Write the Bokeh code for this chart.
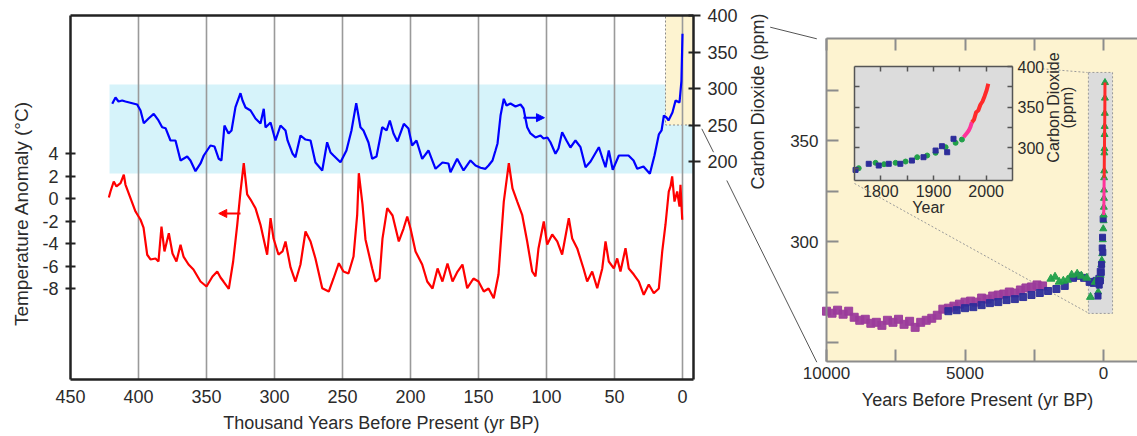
import math
from bokeh.plotting import figure
from bokeh.models import Range1d, LinearAxis, FixedTicker, Arrow, NormalHead
from bokeh.embed import file_html
from bokeh.resources import INLINE
from bokeh.core.properties import value

FONT = "Liberation Sans"
TXT = "#2b2b2b"
YEL = "#fdf3d0"
GREY = "#8c8c8c"

# ---------------- data: Vostok (left panel) ----------------
temp_kyr = [421.8, 420.6, 418.2, 416.2, 413.2, 410.8, 409.6, 405.9, 402.2, 398.5,
            396.3, 393.6, 391.2, 387.5, 385.3, 383.1, 380.9, 377.7, 375.0, 372.1,
            369.1, 366.9, 363.2, 359.6, 354.4, 350.0, 345.6, 342.1, 339.7, 337.5,
            333.6, 330.4, 327.4, 325.0, 322.6, 320.1, 317.6, 314.0, 310.3, 305.4,
            302.9, 300.7, 297.1, 294.1, 291.9, 288.2, 284.6, 280.9, 277.2, 273.5,
            269.9, 264.9, 260.1, 256.6, 252.7, 249.3, 245.6, 241.9, 239.2, 238.0,
            235.3, 233.1, 228.2, 225.7, 222.8, 220.6, 217.1, 213.2, 208.6, 205.1,
            202.4, 200.0, 196.3, 191.4, 187.7, 183.8, 180.1, 176.5, 172.8, 169.1,
            165.4, 161.8, 158.3, 153.7, 150.0, 146.1, 142.6, 138.8, 135.3, 131.4,
            127.7, 125.0, 121.5, 117.9, 114.2, 110.5, 108.1, 105.9, 102.0, 99.5,
            95.8, 92.1, 88.5, 83.6, 81.1, 77.4, 72.8, 70.1, 66.4, 62.7,
            59.0, 56.6, 54.2, 50.5, 48.0, 45.6, 41.9, 39.5, 35.8, 32.1,
            28.5, 24.8, 21.1, 17.4, 14.9, 12.5, 10.1, 8.8, 7.6, 5.9,
            3.9, 2.2, 1.5, 0.2]
temp_anom = [0.09, 0.62, 1.51, 1.07, 1.36, 2.11, 1.24, 0.03, -1.16, -1.89,
             -2.58, -5.00, -5.42, -5.33, -5.60, -2.49, -4.71, -3.08, -4.89, -5.60,
             -4.12, -5.16, -5.87, -6.31, -7.38, -7.82, -6.93, -6.49, -7.02, -7.38,
             -8.03, -5.60, -2.34, 0.62, 3.14, 0.36, -0.09, -0.86, -2.34, -5.00,
             -1.75, -3.56, -4.98, -4.71, -3.82, -6.13, -7.38, -5.87, -2.93, -3.82,
             -5.33, -7.97, -8.27, -7.11, -5.75, -6.49, -6.67, -5.16, -1.45, 2.25,
             -0.53, -3.64, -6.20, -7.38, -7.11, -3.56, -0.86, -1.51, -3.82, -2.67,
             -1.60, -2.67, -4.71, -5.87, -7.38, -8.00, -6.22, -7.38, -5.78, -7.38,
             -6.49, -5.87, -7.97, -7.11, -7.38, -8.27, -8.00, -8.86, -6.76, -0.27,
             3.14, 0.89, -0.27, -1.45, -3.82, -6.49, -6.93, -4.44, -2.04, -4.09,
             -3.20, -3.82, -4.98, -1.75, -3.56, -4.44, -6.22, -7.38, -6.49, -7.97,
             -6.22, -3.82, -5.60, -6.22, -5.33, -6.49, -4.41, -6.22, -6.76, -7.38,
             -8.56, -7.64, -8.42, -8.00, -4.71, -2.31, 0.62, 1.07, 1.96, -0.27,
             0.62, -0.71, 1.22, -1.89]
co2_kyr = [419.3, 416.9, 414.7, 412.0, 409.6, 401.0, 398.5, 396.1, 392.6, 388.8,
           385.3, 382.6, 380.1, 376.5, 372.8, 369.1, 364.2, 361.8, 358.1, 354.4,
           352.0, 347.1, 344.1, 341.0, 339.0, 336.8, 333.8, 331.6, 328.7, 325.0,
           323.5, 321.3, 317.6, 314.0, 310.3, 307.9, 306.6, 302.9, 299.3, 295.6,
           291.9, 290.4, 286.8, 284.6, 280.9, 277.2, 273.5, 269.9, 264.9, 261.3,
           258.8, 256.6, 251.5, 247.1, 243.4, 239.9, 236.8, 234.6, 230.9, 228.2,
           225.0, 220.8, 217.6, 215.2, 212.5, 209.6, 204.9, 201.5, 198.8, 195.6,
           191.4, 186.8, 181.6, 176.5, 172.1, 170.6, 165.7, 161.0, 155.9, 152.2,
           148.5, 144.9, 142.6, 139.7, 137.5, 136.0, 133.8, 131.4, 129.4, 126.5,
           122.8, 119.1, 116.9, 114.2, 111.8, 108.1, 104.4, 102.2, 99.3, 97.1,
           93.4, 91.2, 88.5, 85.3, 82.4, 78.7, 75.0, 71.3, 67.6, 61.5,
           58.8, 56.6, 54.2, 51.3, 46.8, 39.7, 36.0, 33.3, 28.7, 24.0,
           20.6, 17.4, 15.4, 13.7, 11.8, 10.3, 7.4, 5.1, 2.2, 0.8, 0.0]
co2_ppm = [279.0, 287.7, 282.2, 283.6, 282.2, 278.1, 269.9, 252.5, 258.9, 265.3,
           256.2, 247.0, 245.6, 228.8, 228.8, 201.4, 206.8, 201.4, 186.7, 197.3,
           208.2, 221.9, 220.5, 203.7, 201.4, 249.3, 238.4, 242.5, 274.4, 293.6,
           283.6, 274.0, 269.9, 258.9, 252.1, 272.2, 246.6, 253.4, 228.8, 249.3,
           242.5, 228.8, 211.0, 205.9, 235.6, 230.1, 228.8, 198.6, 187.7, 226.4,
           212.3, 208.2, 199.0, 215.1, 242.5, 279.9, 247.0, 242.5, 226.0, 203.7,
           206.8, 247.0, 242.5, 256.2, 238.4, 227.4, 251.6, 245.2, 221.9, 228.8,
           203.7, 215.1, 190.0, 198.6, 197.3, 185.3, 203.7, 187.7, 201.4, 194.5,
           191.4, 190.0, 194.5, 201.4, 215.1, 224.7, 263.0, 285.9, 276.7, 279.5,
           275.3, 278.1, 272.6, 247.0, 238.4, 232.9, 235.6, 231.5, 232.9, 226.4,
           210.6, 217.8, 240.1, 228.8, 219.2, 228.8, 219.6, 192.2, 200.0, 219.6,
           204.1, 192.2, 215.1, 188.6, 208.2, 208.2, 201.4, 190.0, 193.2, 183.2,
           208.2, 237.0, 242.5, 263.0, 260.3, 256.2, 267.1, 283.6, 280.8, 310.0, 375.0]

x_ticks = [450, 400, 350, 300, 250, 200, 150, 100, 50, 0]
grid_ticks = [400, 350, 300, 250, 200, 150, 100, 50, 0]
temp_ticks = [4, 2, 0, -2, -4, -6, -8]
co2_ticks = [200, 250, 300, 350, 400]
co2_band_ppm = [183.6, 305.5]
co2_band_start_kyr = 421.3
zoom_box_kyr = 12.5
zoom_box_ppm = [250, 400]
temp_arrow_kyr = [325, 341]
temp_arrow_val = -1.33
co2_arrow_kyr = [117, 101.5]
co2_arrow_val = 260

# ---------------- data: Holocene (right panel) ----------------
purple_bp = [10000, 9800, 9600, 9400, 9200, 9000, 8800, 8600, 8400, 8200,
             8000, 7800, 7600, 7400, 7200, 7000, 6800, 6600, 6400, 6200,
             6000, 5800, 5600, 5400, 5200, 5000, 4800, 4600, 4400, 4200,
             4000, 3800, 3600, 3400, 3200, 3000, 2800, 2600, 2400, 2200]
purple_ppm = [265.5, 264.5, 266.0, 264.0, 265.5, 262.5, 261.0, 261.5, 259.5, 260.0,
              258.5, 261.0, 260.0, 261.5, 259.0, 260.5, 257.5, 260.0, 261.0, 262.0,
              263.5, 266.5, 267.0, 268.0, 269.0, 270.0, 270.5, 270.0, 272.0, 271.5,
              273.0, 273.5, 274.0, 275.0, 274.5, 276.0, 277.0, 277.5, 278.5, 278.0]
blue_bp = [5600, 5300, 5000, 4700, 4400, 4100, 3800, 3500, 3200, 2900, 2600, 2300,
           2000, 1700, 1400, 1100, 900, 700, 500, 350, 250, 150, 100]
blue_ppm = [265.5, 266.0, 267.0, 267.5, 268.5, 269.5, 270.0, 271.0, 271.5, 272.5, 273.5, 274.5,
            275.5, 276.5, 278.0, 282.0, 283.0, 282.0, 280.0, 279.5, 280.5, 281.5, 285.0]
green_bp = [1900, 1750, 1600, 1450, 1300, 1150, 950, 800, 600, 470, 300, 200]
green_ppm = [281.5, 282.5, 280.0, 280.5, 281.0, 283.5, 284.0, 283.0, 282.0, 272.5, 280.0, 281.0]
holo_x_major = [10000, 5000, 0]
holo_x_minor = [7500, 2500]
holo_y_major = [300, 350]
holo_y_minor = [250, 275, 325, 375]
zoom_rect_bp = [545, -327]
zoom_rect_ppm = [264.4, 383.7]
bp_reference_year = 1950

# ---------------- data: industrial era (inset) ----------------
ice_green_year = [1758, 1790, 1806, 1828, 1847, 1869, 1888, 1904, 1923, 1942, 1954]
ice_green_ppm = [275.1, 281.7, 280.0, 281.7, 283.3, 288.6, 290.7, 294.0, 300.9, 306.3, 310.3]
ice_blue_year = [1752, 1777, 1796, 1815, 1837, 1859, 1881, 1904, 1916, 1926, 1938]
ice_blue_ppm = [273.0, 280.5, 278.4, 280.5, 280.5, 284.5, 288.6, 296.8, 302.1, 294.7, 311.2]
ml_year = [1957, 1962, 1967, 1970, 1973, 1977, 1981, 1985, 1989, 1993, 1997, 2001, 2004]
ml_ppm = [313.1, 317.0, 321.4, 325.5, 331.6, 335.0, 343.9, 346.0, 353.0, 357.0, 363.5, 371.0, 378.7]
inset_years = [1750, 2050]
inset_ppm = [260, 400]
inset_x_major = [1800, 1900, 2000]
inset_x_minor = [1850, 1950]
inset_y_major = [300, 350, 400]
inset_y_minor = [275, 325, 375]

# ---------------- page geometry: pixel anchors of every coordinate system ----------------
W, H = 1137, 436


def lin(p, p0, v0, p1, v1):
    return v0 + (p - p0) * (v1 - v0) / (p1 - p0)


KX = (70, 450, 682, 0)        # thousand years BP
TY = (153, 4, 288, -8)        # temperature anomaly
CY = (15, 400, 161, 200)      # CO2 (left panel)
HX = (826, 10000, 1103, 0)    # years BP (right panel)
HY = (140, 350, 241, 300)     # CO2 (right panel)
YX = (854, 1750, 1012, 2050)  # calendar year (inset)
IY = (66, 400, 180, 260)      # CO2 (inset)


def kx(p): return lin(p, *KX)
def ty(p): return lin(p, *TY)
def cy(p): return lin(p, *CY)
def hx(p): return lin(p, *HX)
def hy(p): return lin(p, *HY)


LEFT_BOX = (70, 693, 15, 379)     # left panel frame (px)
HOLO_BOX = (826, W, 38, 361)      # right panel frame (px)

p = figure(width=W, height=H, x_range=Range1d(kx(0), kx(W)), y_range=Range1d(ty(H), ty(0)),
           x_axis_location=None, y_axis_location=None, output_backend="svg", toolbar_location=None,
           min_border=0, min_border_left=0, min_border_right=0, min_border_top=0, min_border_bottom=0,
           outline_line_color=None, background_fill_color="white", border_fill_color="white")
p.grid.visible = False
p.extra_x_ranges = {"hx": Range1d(hx(0), hx(W)), "yr": Range1d(lin(0, *YX), lin(W, *YX))}
p.extra_y_ranges = {"co2": Range1d(cy(H), cy(0)), "hy": Range1d(hy(H), hy(0)),
                    "iy": Range1d(lin(H, *IY), lin(0, *IY))}


def add_axis(side, loc, bounds, ticks, minor=(), xr="default", yr="default", tin=0, tout=0,
             color="#222222", lw=2.0, fs="18px", standoff=6):
    ax = LinearAxis(x_range_name=xr, y_range_name=yr, fixed_location=loc,
                    bounds=(min(bounds), max(bounds)),
                    ticker=FixedTicker(ticks=list(ticks), minor_ticks=list(minor)))
    ax.major_tick_in = tin
    ax.major_tick_out = tout
    ax.minor_tick_in = tin
    ax.minor_tick_out = tout
    ax.axis_line_color = color
    ax.axis_line_width = lw
    ax.major_tick_line_color = color
    ax.minor_tick_line_color = color
    ax.major_tick_line_width = min(lw, 2)
    ax.minor_tick_line_width = min(lw, 2)
    ax.major_label_text_font = FONT
    ax.major_label_text_font_size = fs
    ax.major_label_text_color = TXT
    ax.major_label_standoff = standoff
    p.add_layout(ax, side)
    return ax


L0, L1, T0, T1 = LEFT_BOX
# ---------------- left panel ----------------
p.quad(left=[co2_band_start_kyr], right=[kx(L1)], bottom=[co2_band_ppm[0]], top=[co2_band_ppm[1]],
       y_range_name="co2", fill_color="#d6f3fa", line_color=None)
p.quad(left=[zoom_box_kyr], right=[kx(L1)], bottom=[zoom_box_ppm[0]], top=[zoom_box_ppm[1]],
       y_range_name="co2", fill_color=YEL, line_color="#8a8a8a", line_dash="2 2", line_width=1)
p.segment(x0=grid_ticks, y0=[ty(T1)] * len(grid_ticks), x1=grid_ticks, y1=[ty(T0)] * len(grid_ticks),
          line_color="#9a9a9a", line_width=1.6)
p.line(temp_kyr, temp_anom, color="#ff0000", line_width=2.2)
p.line(co2_kyr, co2_ppm, y_range_name="co2", color="#0000ff", line_width=2.2)

p.add_layout(Arrow(end=NormalHead(size=8, fill_color="#ff0000", line_color="#ff0000"),
                   x_start=temp_arrow_kyr[0], y_start=temp_arrow_val,
                   x_end=temp_arrow_kyr[1], y_end=temp_arrow_val, line_color="#ff0000", line_width=2))
p.add_layout(Arrow(end=NormalHead(size=8, fill_color="#0000ff", line_color="#0000ff"),
                   x_start=co2_arrow_kyr[0], y_start=co2_arrow_val,
                   x_end=co2_arrow_kyr[1], y_end=co2_arrow_val, y_range_name="co2",
                   line_color="#0000ff", line_width=2))

ya = add_axis("left", kx(L0), (ty(T1), ty(T0)), temp_ticks, tin=5, tout=5, lw=2.5, standoff=7)
ya.major_label_overrides = {t: str(t) for t in temp_ticks}
add_axis("below", ty(T1), (kx(L0), kx(L1)), x_ticks, lw=2.5, standoff=10)
add_axis("above", ty(T0), (kx(L0), kx(L1)), [], lw=2.5)
add_axis("right", kx(L1), (cy(T1), cy(T0)), co2_ticks, yr="co2", tin=5, tout=7, lw=2.5, standoff=7)

# axis titles of the left panel
p.text(x=[kx(21)], y=[ty(213)], text=["Temperature Anomaly (°C)"], angle=math.pi / 2,
       text_align="center", text_baseline="middle", text_font=value(FONT), text_font_size="19px",
       text_color=TXT)
p.text(x=[kx(381)], y=[ty(422)], text=["Thousand Years Before Present (yr BP)"],
       text_align="center", text_baseline="middle", text_font=value(FONT), text_font_size="18px",
       text_color=TXT)
p.text(x=[kx(757)], y=[ty(101)], text=["Carbon Dioxide (ppm)"], angle=math.pi / 2,
       text_align="center", text_baseline="middle", text_font=value(FONT), text_font_size="18px",
       text_color=TXT)

# connector lines from the left panel's highlighted box to the right panel (visible parts)
conn = [((769.7, 26.7), (816.3, 38.3)), ((701.3, 128.3), (713.0, 151.7)), ((726.3, 180.0), (816.3, 361.7))]
p.segment(x0=[kx(a[0]) for a, b in conn], y0=[ty(a[1]) for a, b in conn],
          x1=[kx(b[0]) for a, b in conn], y1=[ty(b[1]) for a, b in conn],
          line_color="#555555", line_width=1)

# ---------------- right panel ----------------
R0, R1, S0, S1 = HOLO_BOX
hk = dict(x_range_name="hx", y_range_name="hy")
p.quad(left=[hx(R0)], right=[hx(R1)], bottom=[hy(S1)], top=[hy(S0)], fill_color=YEL, line_color=None, **hk)
p.quad(left=[zoom_rect_bp[0]], right=[zoom_rect_bp[1]], bottom=[zoom_rect_ppm[0]], top=[zoom_rect_ppm[1]],
       fill_color="#dcdcdc", line_color="#9a9a9a", line_dash="2 2", line_width=1, **hk)
ins = [((1042, 68.3), (1087, 72.0)), ((854, 183.0), (1087, 312.0))]
p.segment(x0=[hx(a[0]) for a, b in ins], y0=[hy(a[1]) for a, b in ins],
          x1=[hx(b[0]) for a, b in ins], y1=[hy(b[1]) for a, b in ins],
          line_color="#9a9a9a", line_dash="2 2", line_width=1, **hk)

p.scatter(purple_bp, purple_ppm, marker="square", size=8, color="#9b3b9b", alpha=0.95, **hk)
p.scatter(blue_bp, blue_ppm, marker="square", size=7, color="#2d2d9a", alpha=0.95, **hk)
p.scatter(green_bp, green_ppm, marker="triangle", size=8, color="#22a04a", alpha=0.95, **hk)
p.scatter([bp_reference_year - y for y in ice_green_year], ice_green_ppm, marker="triangle", size=7,
          color="#22a04a", **hk)
p.scatter([bp_reference_year - y for y in ice_blue_year], ice_blue_ppm, marker="square", size=6,
          color="#2d2d9a", **hk)
p.scatter([bp_reference_year - y for y in ml_year], ml_ppm, marker="triangle", size=7, color="#22a04a", **hk)
p.line([bp_reference_year - y for y in ml_year[:5]], ml_ppm[:5], color="#ff3399", line_width=3, **hk)
p.line([bp_reference_year - y for y in ml_year[4:]], ml_ppm[4:], color="#ff2a2a", line_width=3, **hk)

add_axis("below", hy(S1), (hx(R0), hx(R1)), holo_x_major, holo_x_minor, xr="hx", yr="hy",
         tin=12, color=GREY, lw=2, fs="17px", standoff=5)
add_axis("above", hy(S0), (hx(R0), hx(R1)), [], holo_x_major + holo_x_minor, xr="hx", yr="hy",
         tin=12, color=GREY, lw=2)
add_axis("left", hx(R0), (hy(S1), hy(S0)), holo_y_major, holo_y_minor, xr="hx", yr="hy",
         tin=12, color=GREY, lw=2, fs="17px", standoff=8)
p.text(x=[hx(977)], y=[hy(399)], text=["Years Before Present (yr BP)"], text_align="center",
       text_baseline="middle", text_font=value(FONT), text_font_size="18px", text_color=TXT, **hk)

# ---------------- inset ----------------
ik = dict(x_range_name="yr", y_range_name="iy")
p.quad(left=[inset_years[0]], right=[inset_years[1]], bottom=[inset_ppm[0]], top=[inset_ppm[1]],
       fill_color="#dcdcdc", line_color=None, **ik)
p.scatter(ice_green_year, ice_green_ppm, marker="circle", size=5, color="#22a04a", **ik)
p.scatter(ice_blue_year, ice_blue_ppm, marker="square", size=5, color="#2d2d9a", **ik)
p.line(ml_year[:5], ml_ppm[:5], color="#ff3399", line_width=4, **ik)
p.line(ml_year[4:], ml_ppm[4:], color="#ff2a2a", line_width=4, **ik)

IC = "#555555"
add_axis("below", inset_ppm[0], inset_years, inset_x_major, inset_x_minor, xr="yr", yr="iy",
         tin=5, color=IC, lw=1.5, fs="16px", standoff=4)
add_axis("above", inset_ppm[1], inset_years, [], inset_x_major + inset_x_minor, xr="yr", yr="iy",
         tin=5, color=IC, lw=1.5)
add_axis("left", inset_years[0], inset_ppm, [], inset_y_major[:2] + inset_y_minor, xr="yr", yr="iy",
         tin=5, color=IC, lw=1.5)
add_axis("right", inset_years[1], inset_ppm, inset_y_major, inset_y_minor, xr="yr", yr="iy",
         tin=5, color=IC, lw=1.5, fs="16px", standoff=5)
p.text(x=[kx(928)], y=[ty(207)], text=["Year"], text_align="center", text_baseline="middle",
       text_font=value(FONT), text_font_size="16px", text_color=TXT)
p.text(x=[kx(1052.5), kx(1067)], y=[ty(107), ty(107)], text=["Carbon Dioxide", "(ppm)"],
       angle=math.pi / 2, text_align="center", text_baseline="middle", text_font=value(FONT),
       text_font_size="16px", text_color=TXT)

open("out.html", "w").write(file_html(p, INLINE))
